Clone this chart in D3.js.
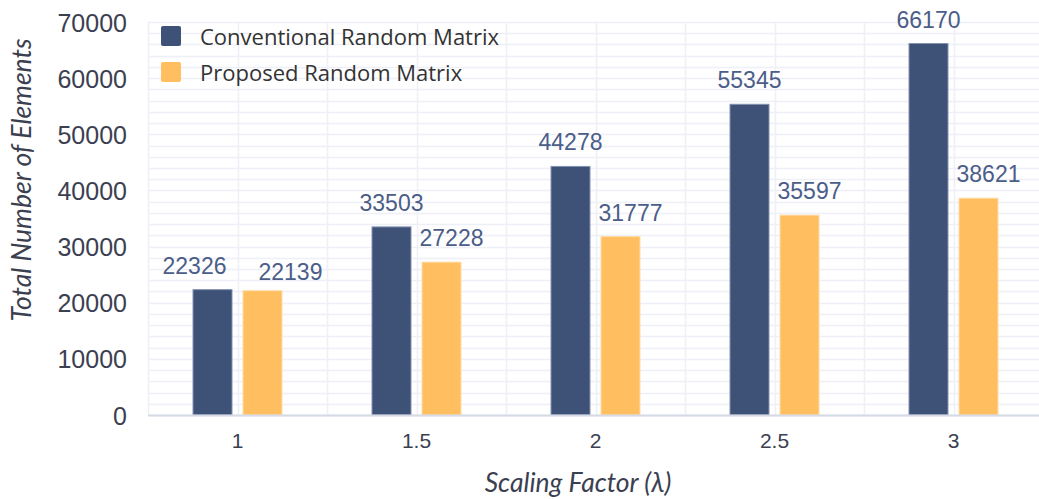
<!DOCTYPE html>
<html>
<head>
<meta charset="utf-8">
<script src="https://cdn.jsdelivr.net/npm/d3@7"></script>
<style>
    body { margin: 0; background: #fff; }
    svg { display: block; }
    .tick-y text { font-family: 'Liberation Sans', Arial, sans-serif; font-size: 25px; fill: #3b4050; }
    .tick-x text { font-family: 'Liberation Sans', Arial, sans-serif; font-size: 21px; fill: #3b4050; }
    .value-label { font-family: 'Liberation Sans', Arial, sans-serif; font-size: 23px; fill: #4b5d88; }
    .axis-title { font-family: Lato, 'Open Sans', sans-serif; font-style: italic; font-size: 26.5px; fill: #3b4050; }
    .legend-text { font-family: 'Open Sans', sans-serif; font-size: 22px; fill: #333; }
</style>
</head>
<body>
<svg id="chart"></svg>
<script>
// Chart data
const categories = ['1', '1.5', '2', '2.5', '3'];
const seriesNames = ['Conventional Random Matrix', 'Proposed Random Matrix'];
const conventional = [22326, 33503, 44278, 55345, 66170];
const proposed = [22139, 27228, 31777, 35597, 38621];
const yTicks = [0, 10000, 20000, 30000, 40000, 50000, 60000, 70000];

const colors = ['#3e5177', '#ffbe60'];
const strokes = ['#8393b3', '#ffdca8'];

class GroupedBarChart {
    constructor(selector) {
        this.svg = d3.select(selector);
        this.width = 1039;
        this.height = 499;
        this.margin = { top: 22, right: -4, bottom: 84, left: 148 };
        this.innerWidth = this.width - this.margin.left - this.margin.right;
        this.innerHeight = this.height - this.margin.top - this.margin.bottom;

        this.svg.attr('width', this.width).attr('height', this.height);
        this.g = this.svg.append('g')
            .attr('transform', `translate(${this.margin.left}, ${this.margin.top})`);

        this.setupScales();
    }

    setupScales() {
        this.x0 = d3.scaleBand()
            .domain(categories)
            .range([0, this.innerWidth]);

        // inner band: bars 40px wide with 10px gap around the category centre
        this.x1 = d3.scaleBand()
            .domain(seriesNames)
            .range([-45, 45])
            .paddingInner(0.2);

        this.y = d3.scaleLinear()
            .domain([0, 70000])
            .range([this.innerHeight, 0]);
    }

    render() {
        this.drawGrid();
        this.drawBars();
        this.drawAxes();
        this.drawLabels();
        this.drawLegend();
    }

    drawGrid() {
        const grid = this.g.append('g').attr('class', 'grid');
        const minor = d3.range(0, 70001, 2000);

        grid.selectAll('.h-line')
            .data(minor)
            .enter()
            .append('line')
            .attr('x1', 0)
            .attr('x2', this.innerWidth)
            .attr('y1', d => Math.round(this.y(d)) + 0.5)
            .attr('y2', d => Math.round(this.y(d)) + 0.5)
            .attr('stroke', '#edf0f6')
            .attr('stroke-width', 1.5);

        // vertical lines at band edges and band centres
        const vx = [];
        categories.forEach(c => {
            vx.push(this.x0(c));
            vx.push(this.x0(c) + this.x0.bandwidth() / 2);
        });
        vx.push(this.innerWidth);

        grid.selectAll('.v-line')
            .data(vx)
            .enter()
            .append('line')
            .attr('x1', d => Math.round(d) + 0.5)
            .attr('x2', d => Math.round(d) + 0.5)
            .attr('y1', 0)
            .attr('y2', this.innerHeight)
            .attr('stroke', '#edf0f6')
            .attr('stroke-width', 1.5);
    }

    drawBars() {
        const rows = categories.map((c, i) => ({
            category: c,
            values: [conventional[i], proposed[i]]
        }));

        const groups = this.g.selectAll('.bar-group')
            .data(rows)
            .enter()
            .append('g')
            .attr('class', 'bar-group')
            .attr('transform', d => `translate(${this.x0(d.category) + this.x0.bandwidth() / 2}, 0)`);

        groups.selectAll('rect')
            .data(d => d.values.map((v, k) => ({ key: seriesNames[k], k: k, value: v })))
            .enter()
            .append('rect')
            .attr('x', d => this.x1(d.key) + 0.5)
            .attr('width', this.x1.bandwidth() - 1)
            .attr('y', d => this.y(d.value))
            .attr('height', d => this.innerHeight - this.y(d.value))
            .attr('fill', d => colors[d.k])
            .attr('stroke', d => strokes[d.k])
            .attr('stroke-width', 1);
    }

    drawAxes() {
        // baseline
        this.g.append('line')
            .attr('x1', 0)
            .attr('x2', this.innerWidth)
            .attr('y1', this.innerHeight + 0.5)
            .attr('y2', this.innerHeight + 0.5)
            .attr('stroke', '#d6dae5')
            .attr('stroke-width', 2);

        const yAxis = d3.axisLeft(this.y)
            .tickValues(yTicks)
            .tickFormat(d3.format('d'))
            .tickSize(0)
            .tickPadding(21);

        this.g.append('g')
            .attr('class', 'tick-y')
            .call(yAxis)
            .call(g => g.select('.domain').remove())
            .selectAll('text')
            .attr('dy', '0.36em');

        const xAxis = d3.axisBottom(this.x0)
            .tickSize(0)
            .tickPadding(18);

        this.g.append('g')
            .attr('class', 'tick-x')
            .attr('transform', `translate(0, ${this.innerHeight})`)
            .call(xAxis)
            .call(g => g.select('.domain').remove());

        this.svg.append('text')
            .attr('class', 'axis-title')
            .attr('x', 578)
            .attr('y', 492)
            .attr('text-anchor', 'middle')
            .text('Scaling Factor (λ)');

        this.svg.append('text')
            .attr('class', 'axis-title')
            .attr('transform', 'translate(31, 180) rotate(-90)')
            .attr('text-anchor', 'middle')
            .text('Total Number of Elements');
    }

    drawLabels() {
        categories.forEach((c, i) => {
            const cx = this.x0(c) + this.x0.bandwidth() / 2;
            const vals = [conventional[i], proposed[i]];
            const labels = vals.map((v, k) => {
                const bx = cx + this.x1(seriesNames[k]) + this.x1.bandwidth() / 2;
                return this.g.append('text')
                    .attr('class', 'value-label')
                    .attr('x', bx + (k === 1 ? 10 : 0))
                    .attr('y', this.y(v) - 16)
                    .attr('text-anchor', 'middle')
                    .text(v);
            });

            // push the two labels apart when they collide
            const b0 = labels[0].node().getBBox();
            const b1 = labels[1].node().getBBox();
            const overlap = (b0.x + b0.width) - b1.x;
            if (overlap > -20 && Math.abs(b0.y - b1.y) < b0.height) {
                const shift = (overlap + 32) / 2;
                labels[0].attr('x', +labels[0].attr('x') - shift);
                labels[1].attr('x', +labels[1].attr('x') + shift)
                    .attr('y', +labels[1].attr('y') + 5);
            }
        });
    }

    drawLegend() {
        const legend = this.svg.append('g')
            .attr('transform', 'translate(161, 26)');

        const items = legend.selectAll('.legend-item')
            .data(seriesNames)
            .enter()
            .append('g')
            .attr('class', 'legend-item')
            .attr('transform', (d, i) => `translate(0, ${i * 36})`);

        items.append('rect')
            .attr('width', 20)
            .attr('height', 20)
            .attr('rx', 2)
            .attr('fill', (d, i) => colors[i]);

        items.append('text')
            .attr('class', 'legend-text')
            .attr('x', 39)
            .attr('y', 11)
            .attr('dy', '0.35em')
            .text(d => d);
    }
}

const chart = new GroupedBarChart('#chart');
chart.render();
</script>
</body>
</html>
